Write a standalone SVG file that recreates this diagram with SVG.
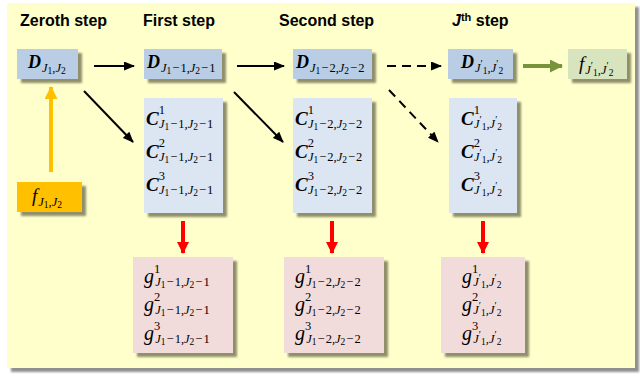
<svg xmlns="http://www.w3.org/2000/svg" width="640" height="376" viewBox="0 0 640 376">
<defs>
<style>
.ttl{font-family:"Liberation Sans",Arial,sans-serif;font-weight:bold;font-size:16px;fill:#000}
.mt{font-family:"Liberation Serif","DejaVu Serif",serif;font-style:italic;fill:#000}
.bm{font-size:18px;font-weight:bold}
.cm{font-size:19px;font-weight:bold}
.gm{font-size:20px}
.fm{font-size:19px}
.sb{font-size:12.5px}
.ss{font-size:9.5px;font-style:normal}
.sp{font-size:12.5px;font-style:normal}
.n{font-style:normal}
.pr{font-size:10px;font-style:normal}
.dbox{fill:#B9CDE5}
.cbox{fill:#DCE6F2}
.gbox{fill:#F2DCDB}
.blk{stroke:#000;stroke-width:2;fill:none}
.dash{stroke-dasharray:9,6}
</style>
<filter id="sh" x="-20%" y="-20%" width="150%" height="150%">
<feDropShadow dx="4" dy="4" stdDeviation="1.2" flood-color="#7a7a5a" flood-opacity="0.85"/>
</filter>
<filter id="bgsh" x="-5%" y="-5%" width="110%" height="110%">
<feDropShadow dx="4" dy="4" stdDeviation="1" flood-color="#909090" flood-opacity="1"/>
</filter>
<marker id="ab" markerUnits="userSpaceOnUse" markerWidth="11" markerHeight="9" refX="10" refY="4.5" orient="auto"><path d="M0,0 L11,4.5 L0,9 z" fill="#000"/></marker>
<marker id="ar" markerUnits="userSpaceOnUse" markerWidth="14" markerHeight="12" refX="11" refY="6" orient="auto"><path d="M0,0 L12,6 L0,12 z" fill="#FF0000"/></marker>
<marker id="ay" markerUnits="userSpaceOnUse" markerWidth="14" markerHeight="13" refX="12" refY="6.5" orient="auto"><path d="M0,0 L13,6.5 L0,13 z" fill="#FFC000"/></marker>
<marker id="ag" markerUnits="userSpaceOnUse" markerWidth="14" markerHeight="13" refX="12" refY="6.5" orient="auto"><path d="M0,0 L13,6.5 L0,13 z" fill="#77933C"/></marker>
</defs>

<rect x="7" y="3" width="628" height="365" fill="#FFFFCC" filter="url(#bgsh)"/>

<text class="ttl" x="20" y="26">Zeroth step</text>
<text class="ttl" x="143" y="26">First step</text>
<text class="ttl" x="279" y="26">Second step</text>
<text class="ttl" x="452" y="26"><tspan font-style="italic">J</tspan><tspan font-size="11px" dy="-5">th</tspan><tspan dy="5"> step</tspan></text>

<g id="connectors">
<line class="blk" x1="94" y1="66" x2="134" y2="66" marker-end="url(#ab)"/>
<line class="blk" x1="237" y1="66" x2="284" y2="66" marker-end="url(#ab)"/>
<line class="blk dash" x1="387" y1="66" x2="441" y2="66" marker-end="url(#ab)"/>
<line class="blk" x1="84" y1="91" x2="133" y2="142" marker-end="url(#ab)"/>
<line class="blk" x1="234" y1="92" x2="283" y2="142" marker-end="url(#ab)"/>
<line class="blk dash" x1="389" y1="90" x2="438" y2="142" marker-end="url(#ab)"/>
<line x1="51" y1="172" x2="51" y2="87" stroke="#FFC000" stroke-width="4" marker-end="url(#ay)"/>
<line x1="523" y1="66" x2="562" y2="66" stroke="#77933C" stroke-width="4" marker-end="url(#ag)"/>
<line x1="183" y1="221" x2="183" y2="253" stroke="#FF0000" stroke-width="4" marker-end="url(#ar)"/>
<line x1="332" y1="221" x2="332" y2="253" stroke="#FF0000" stroke-width="4" marker-end="url(#ar)"/>
<line x1="483" y1="221" x2="483" y2="253" stroke="#FF0000" stroke-width="4" marker-end="url(#ar)"/>
</g>

<g id="D0">
<rect class="dbox" x="17" y="49" width="61" height="30" filter="url(#sh)"/>
<text class="mt" x="28" y="68"><tspan class="bm">D</tspan><tspan class="sb" dx="1" dy="4">J</tspan><tspan class="ss" dy="2">1</tspan><tspan class="sb" dy="-2">,J</tspan><tspan class="ss" dy="2">2</tspan></text>
</g>

<g id="f0">
<rect x="17" y="182" width="65" height="30" fill="#FFC000" filter="url(#sh)"/>
<text class="mt" x="32" y="202"><tspan class="fm">f</tspan><tspan class="sb" dx="1" dy="4">J</tspan><tspan class="ss" dy="2">1</tspan><tspan class="sb" dy="-2">,J</tspan><tspan class="ss" dy="2">2</tspan></text>
</g>

<g id="D1">
<rect class="dbox" x="144" y="49" width="78" height="30" filter="url(#sh)"/>
<text class="mt" x="147" y="68"><tspan class="bm">D</tspan><tspan class="sb" dx="1" dy="4">J</tspan><tspan class="ss" dy="2">1</tspan><tspan class="sb n" dx="1" dy="-2">−</tspan><tspan class="sb n" dx="1">1,</tspan><tspan class="sb">J</tspan><tspan class="ss" dy="2">2</tspan><tspan class="sb n" dx="1" dy="-2">−</tspan><tspan class="sb n" dx="1">1</tspan></text>
</g>

<g id="D2">
<rect class="dbox" x="293" y="49" width="79" height="30" filter="url(#sh)"/>
<text class="mt" x="296" y="68"><tspan class="bm">D</tspan><tspan class="sb" dx="1" dy="4">J</tspan><tspan class="ss" dy="2">1</tspan><tspan class="sb n" dx="1" dy="-2">−</tspan><tspan class="sb n" dx="1">2,</tspan><tspan class="sb">J</tspan><tspan class="ss" dy="2">2</tspan><tspan class="sb n" dx="1" dy="-2">−</tspan><tspan class="sb n" dx="1">2</tspan></text>
</g>

<g id="DJ">
<rect class="dbox" x="448" y="49" width="65" height="30" filter="url(#sh)"/>
<text class="mt" x="461" y="68"><tspan class="bm">D</tspan><tspan class="sb" dx="1" dy="4">J</tspan><tspan class="pr" dy="-5">′</tspan><tspan class="ss" dy="7">1</tspan><tspan class="sb" dy="-2">,J</tspan><tspan class="pr" dy="-5">′</tspan><tspan class="ss" dy="7">2</tspan></text>
</g>

<g id="fJ">
<rect x="568" y="49" width="59" height="30" fill="#D7E4BD" filter="url(#sh)"/>
<text class="mt" x="579" y="70"><tspan class="fm">f</tspan><tspan class="sb" dx="1" dy="4">J</tspan><tspan class="pr" dy="-5">′</tspan><tspan class="ss" dy="7">1</tspan><tspan class="sb" dy="-2">,J</tspan><tspan class="pr" dy="-5">′</tspan><tspan class="ss" dy="7">2</tspan></text>
</g>

<g id="C1">
<rect class="cbox" x="144" y="98" width="79" height="115" filter="url(#sh)"/>
<text class="mt" x="146" y="125"><tspan class="cm">C</tspan><tspan class="sp" dy="-11">1</tspan><tspan class="sb" dx="-6" dy="14">J</tspan><tspan class="ss" dy="2">1</tspan><tspan class="sb n" dx="1" dy="-2">−</tspan><tspan class="sb n" dx="1">1,</tspan><tspan class="sb">J</tspan><tspan class="ss" dy="2">2</tspan><tspan class="sb n" dx="1" dy="-2">−</tspan><tspan class="sb n" dx="1">1</tspan></text>
<text class="mt" x="146" y="158"><tspan class="cm">C</tspan><tspan class="sp" dy="-11">2</tspan><tspan class="sb" dx="-6" dy="14">J</tspan><tspan class="ss" dy="2">1</tspan><tspan class="sb n" dx="1" dy="-2">−</tspan><tspan class="sb n" dx="1">1,</tspan><tspan class="sb">J</tspan><tspan class="ss" dy="2">2</tspan><tspan class="sb n" dx="1" dy="-2">−</tspan><tspan class="sb n" dx="1">1</tspan></text>
<text class="mt" x="146" y="191"><tspan class="cm">C</tspan><tspan class="sp" dy="-11">3</tspan><tspan class="sb" dx="-6" dy="14">J</tspan><tspan class="ss" dy="2">1</tspan><tspan class="sb n" dx="1" dy="-2">−</tspan><tspan class="sb n" dx="1">1,</tspan><tspan class="sb">J</tspan><tspan class="ss" dy="2">2</tspan><tspan class="sb n" dx="1" dy="-2">−</tspan><tspan class="sb n" dx="1">1</tspan></text>
</g>

<g id="C2">
<rect class="cbox" x="293" y="98" width="79" height="115" filter="url(#sh)"/>
<text class="mt" x="295" y="125"><tspan class="cm">C</tspan><tspan class="sp" dy="-11">1</tspan><tspan class="sb" dx="-6" dy="14">J</tspan><tspan class="ss" dy="2">1</tspan><tspan class="sb n" dx="1" dy="-2">−</tspan><tspan class="sb n" dx="1">2,</tspan><tspan class="sb">J</tspan><tspan class="ss" dy="2">2</tspan><tspan class="sb n" dx="1" dy="-2">−</tspan><tspan class="sb n" dx="1">2</tspan></text>
<text class="mt" x="295" y="158"><tspan class="cm">C</tspan><tspan class="sp" dy="-11">2</tspan><tspan class="sb" dx="-6" dy="14">J</tspan><tspan class="ss" dy="2">1</tspan><tspan class="sb n" dx="1" dy="-2">−</tspan><tspan class="sb n" dx="1">2,</tspan><tspan class="sb">J</tspan><tspan class="ss" dy="2">2</tspan><tspan class="sb n" dx="1" dy="-2">−</tspan><tspan class="sb n" dx="1">2</tspan></text>
<text class="mt" x="295" y="191"><tspan class="cm">C</tspan><tspan class="sp" dy="-11">3</tspan><tspan class="sb" dx="-6" dy="14">J</tspan><tspan class="ss" dy="2">1</tspan><tspan class="sb n" dx="1" dy="-2">−</tspan><tspan class="sb n" dx="1">2,</tspan><tspan class="sb">J</tspan><tspan class="ss" dy="2">2</tspan><tspan class="sb n" dx="1" dy="-2">−</tspan><tspan class="sb n" dx="1">2</tspan></text>
</g>

<g id="C3">
<rect class="cbox" x="449" y="98" width="68" height="115" filter="url(#sh)"/>
<text class="mt" x="461" y="125"><tspan class="cm">C</tspan><tspan class="sp" dy="-11">1</tspan><tspan class="sb" dx="-6" dy="14">J</tspan><tspan class="pr" dy="-5">′</tspan><tspan class="ss" dy="7">1</tspan><tspan class="sb" dy="-2">,J</tspan><tspan class="pr" dy="-5">′</tspan><tspan class="ss" dy="7">2</tspan></text>
<text class="mt" x="461" y="158"><tspan class="cm">C</tspan><tspan class="sp" dy="-11">2</tspan><tspan class="sb" dx="-6" dy="14">J</tspan><tspan class="pr" dy="-5">′</tspan><tspan class="ss" dy="7">1</tspan><tspan class="sb" dy="-2">,J</tspan><tspan class="pr" dy="-5">′</tspan><tspan class="ss" dy="7">2</tspan></text>
<text class="mt" x="461" y="191"><tspan class="cm">C</tspan><tspan class="sp" dy="-11">3</tspan><tspan class="sb" dx="-6" dy="14">J</tspan><tspan class="pr" dy="-5">′</tspan><tspan class="ss" dy="7">1</tspan><tspan class="sb" dy="-2">,J</tspan><tspan class="pr" dy="-5">′</tspan><tspan class="ss" dy="7">2</tspan></text>
</g>

<g id="G1">
<rect class="gbox" x="133" y="257" width="100" height="96" filter="url(#sh)"/>
<text class="mt" x="144" y="283"><tspan class="gm">g</tspan><tspan class="sp" dy="-10">1</tspan><tspan class="sb" dx="-5" dy="13">J</tspan><tspan class="ss" dy="2">1</tspan><tspan class="sb n" dx="1" dy="-2">−</tspan><tspan class="sb n" dx="1">1,</tspan><tspan class="sb">J</tspan><tspan class="ss" dy="2">2</tspan><tspan class="sb n" dx="1" dy="-2">−</tspan><tspan class="sb n" dx="1">1</tspan></text>
<text class="mt" x="144" y="311"><tspan class="gm">g</tspan><tspan class="sp" dy="-10">2</tspan><tspan class="sb" dx="-5" dy="13">J</tspan><tspan class="ss" dy="2">1</tspan><tspan class="sb n" dx="1" dy="-2">−</tspan><tspan class="sb n" dx="1">1,</tspan><tspan class="sb">J</tspan><tspan class="ss" dy="2">2</tspan><tspan class="sb n" dx="1" dy="-2">−</tspan><tspan class="sb n" dx="1">1</tspan></text>
<text class="mt" x="144" y="340"><tspan class="gm">g</tspan><tspan class="sp" dy="-10">3</tspan><tspan class="sb" dx="-5" dy="13">J</tspan><tspan class="ss" dy="2">1</tspan><tspan class="sb n" dx="1" dy="-2">−</tspan><tspan class="sb n" dx="1">1,</tspan><tspan class="sb">J</tspan><tspan class="ss" dy="2">2</tspan><tspan class="sb n" dx="1" dy="-2">−</tspan><tspan class="sb n" dx="1">1</tspan></text>
</g>

<g id="G2">
<rect class="gbox" x="284" y="257" width="100" height="96" filter="url(#sh)"/>
<text class="mt" x="295" y="283"><tspan class="gm">g</tspan><tspan class="sp" dy="-10">1</tspan><tspan class="sb" dx="-5" dy="13">J</tspan><tspan class="ss" dy="2">1</tspan><tspan class="sb n" dx="1" dy="-2">−</tspan><tspan class="sb n" dx="1">2,</tspan><tspan class="sb">J</tspan><tspan class="ss" dy="2">2</tspan><tspan class="sb n" dx="1" dy="-2">−</tspan><tspan class="sb n" dx="1">2</tspan></text>
<text class="mt" x="295" y="311"><tspan class="gm">g</tspan><tspan class="sp" dy="-10">2</tspan><tspan class="sb" dx="-5" dy="13">J</tspan><tspan class="ss" dy="2">1</tspan><tspan class="sb n" dx="1" dy="-2">−</tspan><tspan class="sb n" dx="1">2,</tspan><tspan class="sb">J</tspan><tspan class="ss" dy="2">2</tspan><tspan class="sb n" dx="1" dy="-2">−</tspan><tspan class="sb n" dx="1">2</tspan></text>
<text class="mt" x="295" y="340"><tspan class="gm">g</tspan><tspan class="sp" dy="-10">3</tspan><tspan class="sb" dx="-5" dy="13">J</tspan><tspan class="ss" dy="2">1</tspan><tspan class="sb n" dx="1" dy="-2">−</tspan><tspan class="sb n" dx="1">2,</tspan><tspan class="sb">J</tspan><tspan class="ss" dy="2">2</tspan><tspan class="sb n" dx="1" dy="-2">−</tspan><tspan class="sb n" dx="1">2</tspan></text>
</g>

<g id="G3">
<rect class="gbox" x="441" y="257" width="84" height="96" filter="url(#sh)"/>
<text class="mt" x="462" y="283"><tspan class="gm">g</tspan><tspan class="sp" dy="-10">1</tspan><tspan class="sb" dx="-5" dy="13">J</tspan><tspan class="pr" dy="-5">′</tspan><tspan class="ss" dy="7">1</tspan><tspan class="sb" dy="-2">,J</tspan><tspan class="pr" dy="-5">′</tspan><tspan class="ss" dy="7">2</tspan></text>
<text class="mt" x="462" y="311"><tspan class="gm">g</tspan><tspan class="sp" dy="-10">2</tspan><tspan class="sb" dx="-5" dy="13">J</tspan><tspan class="pr" dy="-5">′</tspan><tspan class="ss" dy="7">1</tspan><tspan class="sb" dy="-2">,J</tspan><tspan class="pr" dy="-5">′</tspan><tspan class="ss" dy="7">2</tspan></text>
<text class="mt" x="462" y="340"><tspan class="gm">g</tspan><tspan class="sp" dy="-10">3</tspan><tspan class="sb" dx="-5" dy="13">J</tspan><tspan class="pr" dy="-5">′</tspan><tspan class="ss" dy="7">1</tspan><tspan class="sb" dy="-2">,J</tspan><tspan class="pr" dy="-5">′</tspan><tspan class="ss" dy="7">2</tspan></text>
</g>
</svg>
